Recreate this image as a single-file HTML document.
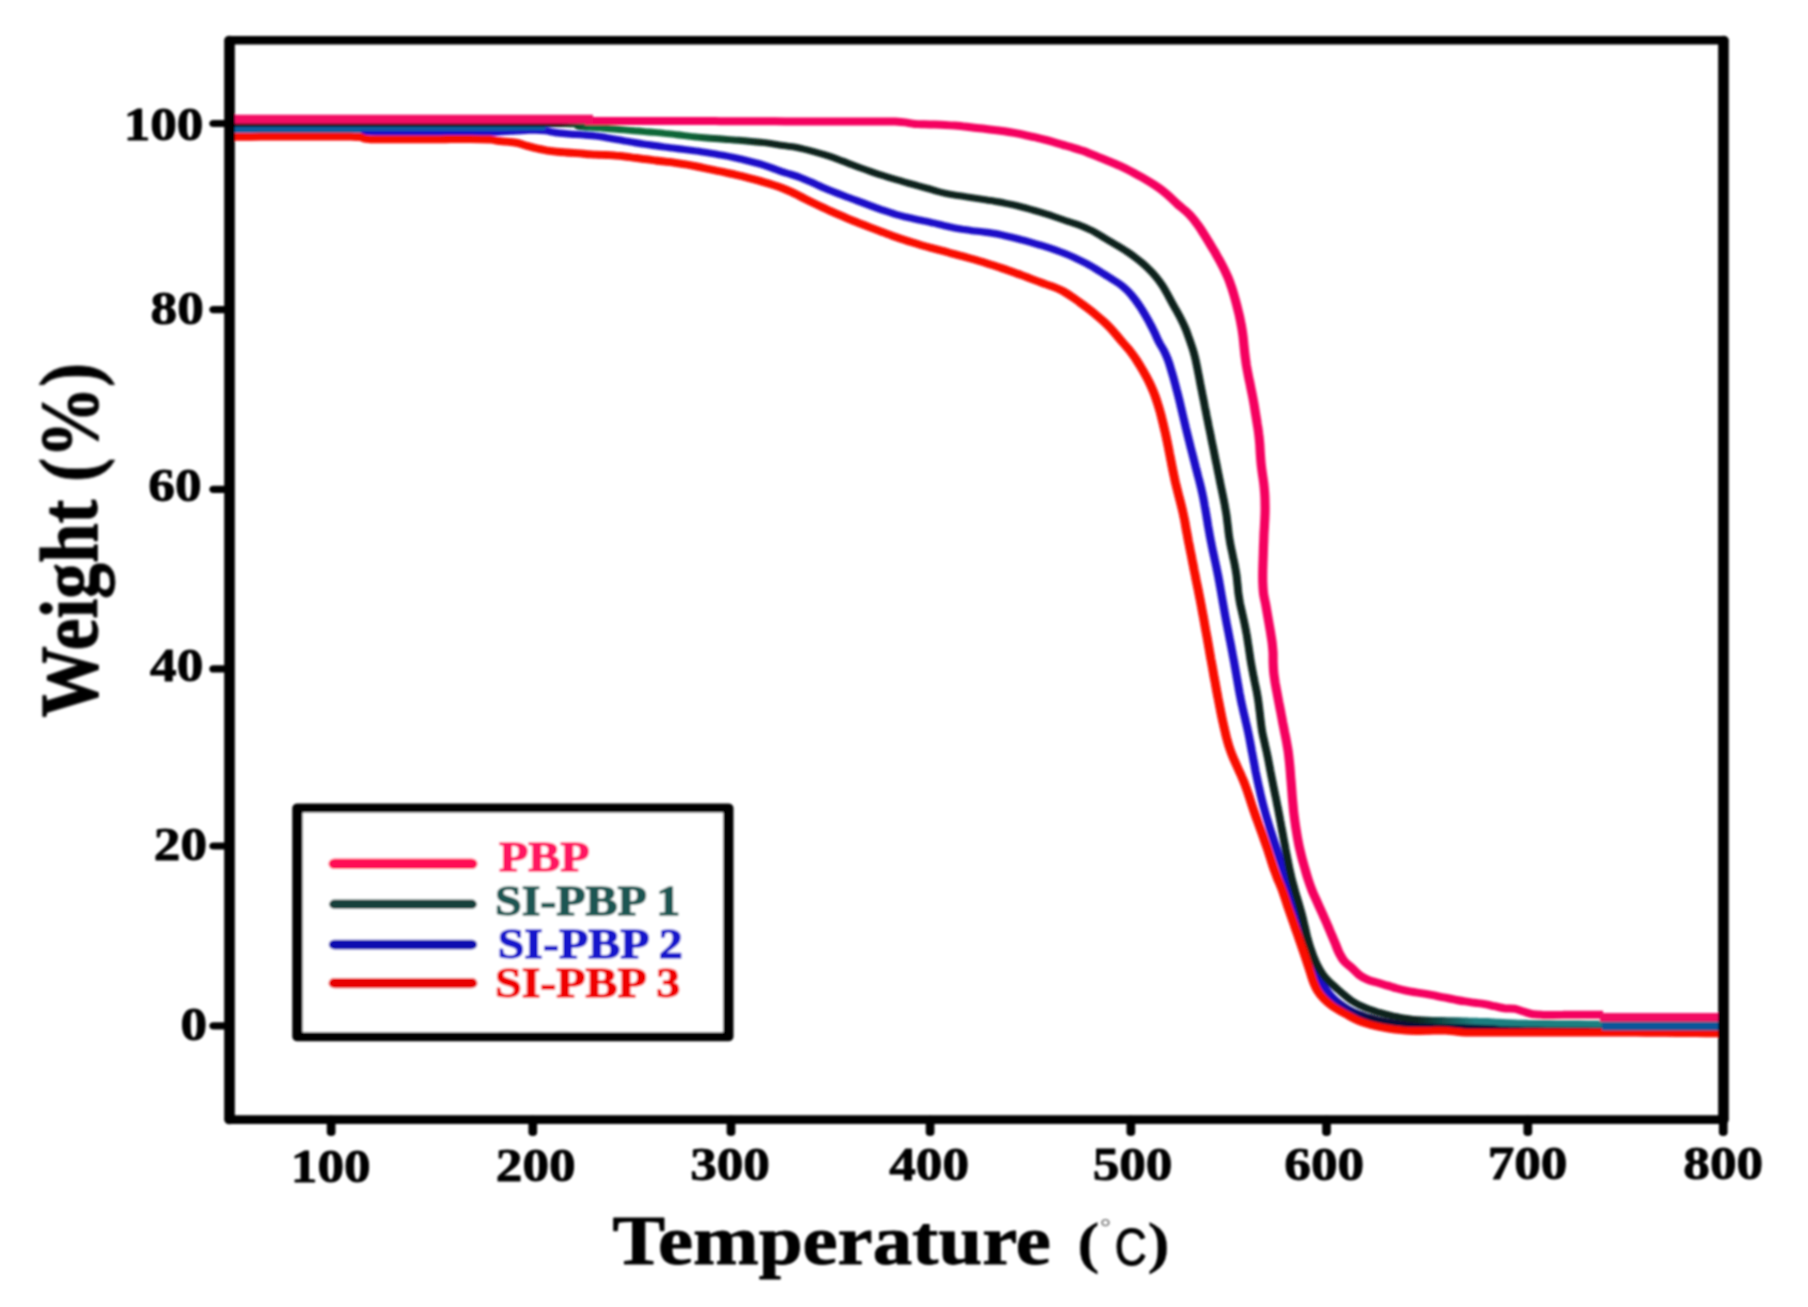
<!DOCTYPE html>
<html lang="en"><head><meta charset="utf-8"><title>TGA curves</title>
<style>html,body{margin:0;padding:0;background:#fff}body{width:1808px;height:1307px;overflow:hidden}svg{display:block}text{font-family:"Liberation Serif",serif;font-weight:bold;fill:#000;stroke:#000;stroke-width:.9px;stroke-linejoin:round}.c{fill:none;stroke-linecap:butt;stroke-linejoin:round}</style></head><body>
<svg width="1808" height="1307" viewBox="0 0 1808 1307">
<defs>
<linearGradient id="gg" gradientUnits="userSpaceOnUse" x1="201.4" y1="0" x2="1501.3" y2="0"><stop offset="0.0000" stop-color="#07150f"/><stop offset="0.2207" stop-color="#07150f"/><stop offset="0.2408" stop-color="#0a6e3c"/><stop offset="0.3078" stop-color="#0a6437"/><stop offset="0.3615" stop-color="#08201a"/><stop offset="0.7941" stop-color="#08201a"/><stop offset="0.8343" stop-color="#1d7f80"/><stop offset="1.0000" stop-color="#1d7f80"/></linearGradient>
<linearGradient id="gb" gradientUnits="userSpaceOnUse" x1="201.4" y1="0" x2="1501.3" y2="0"><stop offset="0.0000" stop-color="#1a10c8"/><stop offset="0.7371" stop-color="#1a10c8"/><stop offset="0.7653" stop-color="#080838"/><stop offset="1.0000" stop-color="#080838"/></linearGradient>
<filter id="soft" x="-2%" y="-2%" width="104%" height="104%"><feGaussianBlur stdDeviation="1"/></filter>
</defs>
<rect width="1808" height="1307" fill="#fff"/>
<g transform="scale(1.1470,1)" filter="url(#soft)">
<g class="c">
<path d="M201.4 130.3C202.8 130.3 207.2 130.3 210.1 130.3C213.0 130.3 215.9 130.3 218.8 130.3C221.8 130.3 224.7 130.3 227.6 130.2C230.5 130.2 233.4 130.2 236.3 130.2C239.2 130.2 242.1 130.2 245.0 130.2C247.9 130.2 250.8 130.2 253.7 130.2C256.6 130.2 259.6 130.2 262.5 130.2C265.4 130.2 268.3 130.2 271.2 130.2C274.1 130.2 277.0 130.2 279.9 130.2C282.8 130.2 285.7 130.2 288.6 130.2C291.5 130.2 294.4 130.2 297.4 130.2C300.3 130.2 303.2 130.2 306.1 130.2C308.9 130.3 312.6 130.2 314.6 130.4C316.5 130.6 316.6 131.0 317.8 131.2C319.0 131.5 319.7 131.9 321.8 132.0C323.8 132.2 327.4 132.1 330.3 132.2C333.2 132.2 336.1 132.2 339.1 132.2C342.0 132.2 344.9 132.2 347.8 132.2C350.7 132.2 353.6 132.2 356.5 132.2C359.4 132.2 362.3 132.2 365.2 132.2C368.1 132.2 371.0 132.2 374.0 132.2C376.9 132.2 379.8 132.2 382.7 132.2C385.6 132.2 388.5 132.2 391.4 132.2C394.3 132.2 397.2 132.2 400.1 132.1C403.0 132.1 405.9 132.1 408.8 132.1C411.8 132.1 414.7 132.1 417.6 132.1C420.5 132.1 423.6 132.1 426.2 132.1C428.9 132.1 431.0 132.2 433.5 132.1C435.9 132.0 438.3 131.7 441.0 131.5C443.7 131.3 446.8 131.0 449.7 130.8C452.6 130.6 455.5 130.5 458.4 130.3C461.3 130.2 464.2 130.0 467.1 130.1C470.0 130.2 472.9 130.4 475.8 130.8C478.6 131.3 481.5 132.1 484.3 132.6C487.2 133.1 490.1 133.4 493.0 133.7C495.9 134.0 498.8 134.1 501.7 134.4C504.6 134.6 507.5 134.8 510.4 135.1C513.3 135.4 516.2 135.6 519.1 136.0C522.0 136.4 524.9 136.9 527.7 137.4C530.6 138.0 533.5 138.6 536.3 139.2C539.2 139.8 542.0 140.4 544.9 141.0C547.8 141.5 550.6 142.1 553.5 142.6C556.4 143.2 559.2 143.7 562.1 144.2C565.0 144.7 567.9 145.1 570.8 145.6C573.6 146.1 576.5 146.5 579.4 147.0C582.3 147.4 585.2 147.9 588.0 148.3C590.9 148.7 593.8 149.1 596.7 149.5C599.6 149.9 602.5 150.3 605.4 150.8C608.2 151.2 611.1 151.7 614.0 152.2C616.9 152.7 619.7 153.3 622.6 153.8C625.5 154.4 628.3 155.0 631.2 155.6C634.0 156.2 636.9 156.9 639.7 157.6C642.6 158.3 645.4 159.1 648.2 159.8C651.1 160.6 653.9 161.4 656.7 162.2C659.5 163.0 662.4 163.8 665.1 164.8C667.9 165.8 670.6 166.9 673.4 168.1C676.1 169.2 678.7 170.6 681.5 171.7C684.2 172.7 687.1 173.5 689.8 174.5C692.6 175.5 695.4 176.5 698.1 177.7C700.8 178.9 703.5 180.2 706.1 181.6C708.8 182.9 711.4 184.3 714.1 185.7C716.7 187.1 719.4 188.4 722.1 189.7C724.8 191.0 727.5 192.2 730.2 193.4C732.9 194.6 735.6 195.8 738.3 197.0C741.1 198.1 743.8 199.3 746.5 200.4C749.2 201.6 752.0 202.7 754.7 203.9C757.4 205.0 760.2 206.2 762.9 207.4C765.6 208.5 768.3 209.7 771.1 210.7C773.8 211.8 776.6 212.9 779.4 213.8C782.2 214.8 785.0 215.6 787.8 216.5C790.6 217.3 793.5 218.0 796.3 218.7C799.1 219.4 802.0 220.0 804.8 220.8C807.7 221.5 810.5 222.2 813.4 222.9C816.2 223.7 819.0 224.4 821.9 225.2C824.7 225.9 827.5 226.7 830.4 227.4C833.2 228.1 836.1 228.7 838.9 229.3C841.8 229.8 844.7 230.3 847.6 230.7C850.4 231.1 853.3 231.4 856.2 231.8C859.1 232.2 862.0 232.5 864.9 233.1C867.8 233.6 870.6 234.2 873.5 234.9C876.3 235.6 879.1 236.4 881.9 237.2C884.8 238.0 887.6 238.9 890.4 239.8C893.2 240.6 896.0 241.5 898.8 242.4C901.6 243.4 904.4 244.3 907.2 245.2C909.9 246.2 912.7 247.2 915.5 248.2C918.2 249.2 921.0 250.3 923.7 251.5C926.5 252.6 929.2 253.8 931.8 255.1C934.5 256.4 937.2 257.8 939.8 259.3C942.4 260.7 945.0 262.2 947.6 263.8C950.1 265.4 952.6 267.1 955.1 268.8C957.6 270.5 960.1 272.3 962.5 274.0C965.0 275.8 967.5 277.6 969.9 279.4C972.4 281.2 974.9 282.9 977.2 284.9C979.5 287.0 981.7 289.1 983.7 291.5C985.7 293.8 987.5 296.5 989.3 299.1C991.1 301.8 992.7 304.5 994.3 307.3C995.9 310.1 997.4 312.9 998.9 315.8C1000.4 318.7 1001.8 321.6 1003.1 324.6C1004.5 327.5 1005.7 330.5 1007.0 333.5C1008.2 336.6 1009.3 339.7 1010.7 342.6C1012.0 345.5 1013.7 348.3 1015.0 351.2C1016.3 354.1 1017.4 357.1 1018.4 360.2C1019.5 363.3 1020.2 366.6 1021.0 369.8C1021.9 373.0 1022.7 376.2 1023.5 379.4C1024.2 382.6 1025.0 385.8 1025.7 389.1C1026.5 392.3 1027.2 395.5 1027.9 398.8C1028.6 402.0 1029.2 405.2 1029.9 408.5C1030.6 411.7 1031.2 415.0 1031.9 418.2C1032.6 421.5 1033.2 424.7 1033.9 428.0C1034.6 431.2 1035.3 434.4 1036.0 437.7C1036.7 440.9 1037.4 444.2 1038.1 447.4C1038.8 450.6 1039.6 453.9 1040.3 457.1C1041.0 460.3 1041.7 463.6 1042.4 466.8C1043.2 470.0 1043.9 473.2 1044.6 476.5C1045.4 479.7 1046.1 482.9 1046.8 486.2C1047.5 489.4 1048.1 492.7 1048.7 495.9C1049.3 499.2 1049.8 502.5 1050.3 505.8C1050.9 509.0 1051.3 512.3 1051.8 515.6C1052.3 518.9 1052.8 522.2 1053.2 525.5C1053.7 528.8 1054.2 532.1 1054.7 535.3C1055.2 538.6 1055.8 541.9 1056.4 545.2C1056.9 548.4 1057.6 551.7 1058.2 555.0C1058.8 558.2 1059.4 561.5 1060.0 564.7C1060.6 568.0 1061.2 571.3 1061.8 574.5C1062.4 577.8 1062.9 581.1 1063.4 584.4C1063.9 587.7 1064.4 590.9 1064.9 594.2C1065.4 597.5 1065.9 600.8 1066.4 604.1C1066.9 607.4 1067.4 610.7 1067.9 613.9C1068.4 617.2 1069.0 620.5 1069.5 623.8C1070.1 627.1 1070.6 630.3 1071.2 633.6C1071.7 636.9 1072.3 640.1 1072.9 643.4C1073.4 646.7 1074.0 650.0 1074.5 653.2C1075.0 656.5 1075.6 659.8 1076.1 663.1C1076.6 666.4 1077.1 669.7 1077.6 672.9C1078.1 676.2 1078.6 679.5 1079.1 682.8C1079.6 686.1 1080.1 689.4 1080.6 692.6C1081.2 695.9 1081.7 699.2 1082.3 702.5C1082.9 705.7 1083.6 709.0 1084.2 712.2C1084.9 715.5 1085.6 718.7 1086.2 722.0C1086.9 725.2 1087.5 728.5 1088.1 731.7C1088.7 735.0 1089.3 738.3 1089.8 741.5C1090.4 744.8 1090.9 748.1 1091.4 751.4C1092.0 754.7 1092.5 757.9 1093.0 761.2C1093.6 764.5 1094.1 767.8 1094.6 771.1C1095.2 774.3 1095.8 777.6 1096.4 780.9C1097.0 784.1 1097.6 787.4 1098.3 790.6C1098.9 793.9 1099.6 797.1 1100.3 800.4C1101.0 803.6 1101.7 806.8 1102.5 810.0C1103.3 813.3 1104.0 816.5 1104.9 819.7C1105.7 822.9 1106.5 826.0 1107.4 829.2C1108.3 832.4 1109.2 835.6 1110.1 838.8C1111.0 841.9 1111.9 845.1 1112.8 848.3C1113.7 851.4 1114.6 854.6 1115.5 857.8C1116.5 860.9 1117.4 864.1 1118.3 867.3C1119.2 870.4 1120.2 873.6 1121.1 876.7C1122.0 879.9 1123.0 883.1 1123.9 886.2C1124.7 889.4 1125.6 892.6 1126.5 895.8C1127.3 899.0 1128.2 902.1 1129.0 905.3C1129.9 908.5 1130.8 911.7 1131.6 914.9C1132.5 918.1 1133.4 921.3 1134.2 924.4C1135.1 927.6 1136.0 930.8 1136.8 934.0C1137.7 937.2 1138.6 940.3 1139.5 943.5C1140.4 946.7 1141.3 949.9 1142.2 953.0C1143.1 956.2 1143.9 959.4 1144.9 962.6C1145.9 965.7 1146.8 968.8 1148.0 971.9C1149.1 975.0 1150.3 978.0 1151.7 981.0C1153.0 983.9 1154.5 986.8 1156.1 989.5C1157.8 992.3 1159.6 994.9 1161.6 997.3C1163.6 999.7 1165.8 1001.8 1168.2 1003.8C1170.5 1005.8 1173.0 1007.6 1175.5 1009.2C1178.0 1010.8 1180.6 1012.3 1183.3 1013.6C1186.0 1014.8 1188.7 1015.9 1191.5 1017.0C1194.3 1018.0 1197.1 1018.8 1199.9 1019.6C1202.7 1020.4 1205.6 1021.1 1208.4 1021.8C1211.3 1022.4 1214.2 1022.9 1217.0 1023.4C1219.9 1023.9 1222.8 1024.3 1225.7 1024.6C1228.6 1024.9 1231.5 1025.1 1234.4 1025.3C1237.3 1025.5 1240.2 1025.6 1243.1 1025.7C1246.0 1025.9 1248.9 1026.0 1251.8 1026.1C1254.7 1026.2 1257.6 1026.3 1260.5 1026.4C1263.5 1026.5 1266.4 1026.6 1269.3 1026.7C1272.2 1026.8 1275.1 1026.9 1278.0 1026.9C1280.9 1027.0 1283.8 1027.1 1286.7 1027.2C1289.6 1027.2 1292.5 1027.3 1295.4 1027.4C1298.3 1027.4 1301.2 1027.5 1304.2 1027.5C1307.1 1027.6 1310.0 1027.6 1312.9 1027.7C1315.8 1027.7 1318.7 1027.8 1321.6 1027.8C1324.5 1027.8 1327.4 1027.9 1330.3 1027.9C1333.2 1027.9 1336.1 1027.9 1339.0 1028.0C1342.0 1028.0 1344.9 1028.0 1347.8 1028.0C1350.7 1028.1 1353.6 1028.1 1356.5 1028.1C1359.4 1028.1 1362.3 1028.1 1365.2 1028.1C1368.1 1028.1 1371.0 1028.1 1373.9 1028.2C1376.8 1028.2 1379.8 1028.2 1382.7 1028.2C1385.6 1028.2 1388.5 1028.2 1391.4 1028.2C1394.3 1028.2 1397.2 1028.2 1400.1 1028.2C1403.0 1028.2 1405.9 1028.2 1408.8 1028.2C1411.7 1028.2 1414.7 1028.2 1417.6 1028.2C1420.5 1028.2 1423.4 1028.2 1426.3 1028.2C1429.2 1028.1 1432.1 1028.1 1435.0 1028.1C1437.9 1028.1 1440.8 1028.1 1443.7 1028.1C1446.6 1028.1 1449.5 1028.1 1452.5 1028.0C1455.4 1028.0 1458.3 1028.0 1461.2 1028.0C1464.1 1028.0 1467.0 1028.0 1469.9 1028.0C1472.8 1027.9 1475.7 1027.9 1478.6 1027.9C1481.5 1027.9 1484.4 1027.9 1487.3 1027.9C1490.3 1027.9 1493.7 1027.8 1496.1 1027.8C1498.4 1027.8 1500.4 1027.8 1501.3 1027.8" stroke="url(#gb)" stroke-width="7.2"/>
<path d="M201.4 129.2L314.7 129.2" stroke="#0b5f9e" stroke-width="7.4"/>
<path d="M313.0 128.3L435.9 128.3L475.2 127.6" stroke="#0b5f9e" stroke-width="4.8"/>
<path d="M201.4 123.3C202.8 123.3 207.2 123.3 210.1 123.3C213.0 123.3 215.9 123.3 218.8 123.3C221.7 123.3 224.7 123.3 227.6 123.3C230.5 123.3 233.4 123.3 236.3 123.3C239.2 123.3 242.1 123.3 245.0 123.3C247.9 123.3 250.8 123.3 253.7 123.3C256.6 123.3 259.5 123.3 262.5 123.3C265.4 123.3 268.3 123.3 271.2 123.3C274.1 123.3 277.0 123.3 279.9 123.3C282.8 123.3 285.7 123.3 288.6 123.3C291.5 123.3 294.4 123.3 297.3 123.2C300.3 123.2 303.2 123.2 306.1 123.2C309.0 123.2 311.9 123.2 314.8 123.2C317.7 123.2 320.6 123.2 323.5 123.2C326.4 123.2 329.3 123.2 332.2 123.2C335.1 123.2 338.1 123.2 341.0 123.2C343.9 123.2 346.8 123.2 349.7 123.2C352.6 123.2 355.5 123.2 358.4 123.2C361.3 123.2 364.2 123.2 367.1 123.2C370.0 123.2 372.9 123.2 375.9 123.2C378.8 123.2 381.7 123.2 384.6 123.2C387.5 123.2 390.4 123.2 393.3 123.2C396.2 123.2 399.1 123.2 402.0 123.2C404.9 123.2 407.8 123.2 410.7 123.2C413.7 123.3 416.6 123.3 419.5 123.3C422.4 123.3 425.3 123.3 428.2 123.3C431.1 123.3 434.0 123.3 436.9 123.3C439.8 123.3 442.7 123.3 445.6 123.3C448.5 123.3 451.5 123.3 454.4 123.3C457.3 123.3 460.2 123.4 463.1 123.4C466.0 123.4 468.9 123.4 471.8 123.4C474.7 123.4 477.6 123.4 480.5 123.5C483.4 123.5 486.3 123.5 489.3 123.5C492.2 123.6 495.1 123.6 498.0 123.7C500.8 123.8 504.7 123.8 506.5 124.0C508.2 124.2 509.0 124.6 508.6 124.9C508.2 125.3 503.8 125.8 504.0 126.1C504.2 126.5 507.4 126.7 509.8 127.0C512.2 127.2 515.5 127.3 518.4 127.5C521.3 127.7 524.2 128.0 527.1 128.2C530.0 128.5 532.9 128.8 535.8 129.0C538.7 129.3 541.6 129.6 544.5 129.9C547.4 130.2 550.3 130.5 553.2 130.8C556.1 131.0 559.0 131.3 561.9 131.6C564.8 131.9 567.7 132.1 570.6 132.4C573.5 132.7 576.4 133.0 579.3 133.4C582.2 133.7 585.1 134.1 588.0 134.4C590.8 134.8 593.7 135.3 596.6 135.6C599.5 136.0 602.4 136.4 605.3 136.8C608.2 137.1 611.1 137.5 614.0 137.7C616.9 138.0 619.8 138.3 622.7 138.5C625.6 138.8 628.5 139.0 631.4 139.2C634.3 139.5 637.2 139.7 640.1 140.0C643.0 140.2 645.9 140.5 648.8 140.8C651.7 141.1 654.6 141.4 657.4 141.7C660.3 142.0 663.2 142.3 666.1 142.7C669.0 143.1 671.9 143.6 674.8 144.1C677.6 144.6 680.5 145.2 683.4 145.7C686.2 146.2 689.1 146.4 692.0 146.9C694.9 147.5 697.7 148.2 700.5 149.0C703.4 149.7 706.2 150.6 709.0 151.5C711.8 152.4 714.6 153.3 717.4 154.2C720.1 155.2 722.9 156.2 725.7 157.3C728.4 158.4 731.1 159.6 733.8 160.8C736.6 161.9 739.3 163.2 742.0 164.4C744.7 165.6 747.4 166.8 750.1 167.9C752.9 169.1 755.6 170.2 758.4 171.2C761.1 172.3 763.9 173.4 766.6 174.4C769.4 175.4 772.2 176.4 775.0 177.4C777.7 178.4 780.5 179.4 783.3 180.3C786.1 181.2 788.9 182.2 791.7 183.1C794.5 184.0 797.3 184.8 800.1 185.7C802.9 186.6 805.7 187.5 808.5 188.4C811.3 189.3 814.1 190.4 816.9 191.3C819.7 192.2 822.5 193.0 825.3 193.7C828.1 194.4 831.0 194.9 833.9 195.4C836.8 195.9 839.7 196.4 842.5 196.8C845.4 197.3 848.3 197.8 851.2 198.3C854.0 198.8 856.9 199.3 859.8 199.8C862.6 200.4 865.5 200.9 868.4 201.5C871.3 202.0 874.1 202.6 877.0 203.3C879.8 203.9 882.7 204.6 885.5 205.4C888.3 206.2 891.1 207.0 893.9 207.9C896.7 208.8 899.5 209.7 902.3 210.6C905.1 211.5 907.9 212.4 910.7 213.5C913.5 214.5 916.2 215.5 919.0 216.6C921.7 217.7 924.4 218.8 927.2 219.9C930.0 221.0 932.7 221.9 935.5 223.0C938.3 224.0 941.0 225.1 943.7 226.3C946.4 227.6 949.1 228.9 951.6 230.4C954.2 231.9 956.7 233.7 959.2 235.3C961.7 237.0 964.2 238.8 966.7 240.6C969.2 242.3 971.7 243.9 974.2 245.6C976.7 247.3 979.2 249.0 981.6 250.9C984.1 252.7 986.5 254.6 988.8 256.6C991.1 258.6 993.4 260.6 995.6 262.8C997.8 265.0 1000.0 267.2 1002.0 269.6C1004.1 271.9 1006.1 274.4 1007.9 276.9C1009.8 279.5 1011.5 282.2 1013.1 285.0C1014.7 287.7 1016.1 290.7 1017.5 293.6C1018.9 296.5 1020.3 299.5 1021.7 302.4C1023.1 305.3 1024.5 308.2 1025.9 311.1C1027.3 314.0 1028.7 316.9 1030.0 319.9C1031.3 322.9 1032.6 325.9 1033.7 329.0C1034.8 332.1 1035.7 335.2 1036.7 338.4C1037.6 341.5 1038.6 344.7 1039.5 347.8C1040.4 351.0 1041.2 354.2 1041.9 357.4C1042.6 360.6 1043.1 363.9 1043.7 367.2C1044.3 370.5 1044.8 373.8 1045.4 377.0C1045.9 380.3 1046.5 383.6 1047.0 386.9C1047.6 390.1 1048.2 393.4 1048.7 396.7C1049.3 399.9 1049.9 403.2 1050.4 406.5C1051.0 409.8 1051.6 413.0 1052.1 416.3C1052.7 419.6 1053.3 422.8 1053.8 426.1C1054.4 429.4 1055.0 432.6 1055.6 435.9C1056.1 439.2 1056.7 442.5 1057.3 445.7C1057.9 449.0 1058.5 452.3 1059.0 455.5C1059.6 458.8 1060.2 462.1 1060.8 465.3C1061.3 468.6 1061.9 471.9 1062.5 475.1C1063.1 478.4 1063.6 481.7 1064.2 484.9C1064.8 488.2 1065.4 491.5 1066.0 494.7C1066.6 498.0 1067.2 501.3 1067.7 504.6C1068.2 507.8 1068.7 511.1 1069.2 514.4C1069.6 517.7 1069.9 521.0 1070.3 524.3C1070.7 527.6 1070.9 531.0 1071.3 534.3C1071.7 537.6 1072.2 540.9 1072.7 544.1C1073.2 547.4 1073.9 550.7 1074.5 553.9C1075.0 557.2 1075.7 560.5 1076.3 563.7C1076.8 567.0 1077.4 570.3 1077.8 573.6C1078.3 576.9 1078.5 580.2 1078.8 583.5C1079.2 586.8 1079.3 590.1 1079.7 593.5C1080.1 596.8 1080.6 600.0 1081.1 603.3C1081.7 606.6 1082.4 609.8 1083.0 613.1C1083.6 616.3 1084.3 619.6 1084.9 622.8C1085.5 626.1 1086.1 629.4 1086.6 632.6C1087.2 635.9 1087.6 639.2 1088.0 642.5C1088.5 645.8 1088.8 649.1 1089.3 652.4C1089.7 655.7 1090.1 659.0 1090.6 662.3C1091.1 665.6 1091.6 668.9 1092.2 672.2C1092.7 675.4 1093.4 678.7 1093.9 682.0C1094.5 685.2 1095.1 688.5 1095.7 691.8C1096.2 695.0 1096.7 698.3 1097.1 701.6C1097.5 704.9 1097.8 708.2 1098.2 711.6C1098.6 714.9 1098.8 718.2 1099.2 721.5C1099.6 724.8 1099.9 728.1 1100.4 731.4C1100.9 734.7 1101.6 737.9 1102.2 741.2C1102.8 744.4 1103.5 747.7 1104.1 750.9C1104.8 754.2 1105.3 757.5 1105.9 760.7C1106.4 764.0 1107.0 767.3 1107.5 770.6C1108.1 773.8 1108.6 777.1 1109.2 780.4C1109.8 783.7 1110.3 786.9 1110.9 790.2C1111.5 793.5 1112.1 796.7 1112.7 800.0C1113.2 803.3 1113.8 806.5 1114.4 809.8C1114.9 813.1 1115.5 816.3 1116.0 819.6C1116.6 822.9 1117.1 826.2 1117.6 829.5C1118.2 832.7 1118.7 836.0 1119.2 839.3C1119.7 842.6 1120.3 845.9 1120.8 849.1C1121.4 852.4 1121.9 855.7 1122.5 859.0C1123.1 862.2 1123.6 865.5 1124.2 868.8C1124.8 872.0 1125.5 875.3 1126.1 878.5C1126.8 881.8 1127.6 885.0 1128.4 888.2C1129.1 891.4 1130.0 894.6 1130.8 897.8C1131.7 901.0 1132.5 904.2 1133.3 907.4C1134.1 910.6 1134.9 913.8 1135.6 917.0C1136.3 920.3 1136.9 923.5 1137.6 926.8C1138.3 930.0 1138.9 933.3 1139.6 936.5C1140.4 939.7 1141.1 942.9 1142.0 946.1C1142.9 949.3 1143.9 952.4 1144.9 955.6C1146.0 958.7 1147.0 961.8 1148.3 964.7C1149.6 967.7 1151.0 970.7 1152.7 973.4C1154.3 976.1 1156.3 978.6 1158.3 981.0C1160.3 983.3 1162.6 985.4 1164.7 987.7C1166.9 989.9 1169.0 992.2 1171.3 994.3C1173.5 996.5 1175.7 998.6 1178.1 1000.5C1180.5 1002.3 1183.1 1003.9 1185.7 1005.4C1188.3 1006.8 1191.0 1008.1 1193.7 1009.2C1196.4 1010.4 1199.2 1011.4 1202.0 1012.4C1204.8 1013.3 1207.6 1014.2 1210.4 1014.9C1213.3 1015.7 1216.1 1016.4 1219.0 1017.0C1221.8 1017.7 1224.7 1018.2 1227.6 1018.7C1230.4 1019.2 1233.3 1019.6 1236.2 1019.8C1239.1 1020.1 1242.0 1020.2 1244.9 1020.3C1247.8 1020.4 1250.7 1020.4 1253.6 1020.5C1256.6 1020.5 1259.5 1020.6 1262.4 1020.6C1265.3 1020.7 1268.2 1020.8 1271.1 1020.8C1274.0 1020.9 1276.9 1020.9 1279.8 1021.0C1282.7 1021.0 1285.6 1021.1 1288.5 1021.2C1291.4 1021.2 1294.3 1021.3 1297.2 1021.5C1300.2 1021.7 1303.0 1022.0 1305.9 1022.2C1308.8 1022.5 1311.7 1022.7 1314.6 1022.8C1317.5 1023.0 1320.5 1023.0 1323.4 1023.1C1326.3 1023.2 1329.2 1023.2 1332.1 1023.3C1335.0 1023.3 1337.9 1023.4 1340.8 1023.4C1343.7 1023.5 1346.6 1023.5 1349.5 1023.5C1352.4 1023.6 1355.3 1023.6 1358.3 1023.6C1361.2 1023.7 1364.1 1023.7 1367.0 1023.7C1369.9 1023.8 1372.8 1023.8 1375.7 1023.8C1378.6 1023.9 1381.5 1023.9 1384.4 1023.9C1387.3 1023.9 1390.2 1024.0 1393.1 1024.0C1396.1 1024.0 1399.0 1024.0 1401.9 1024.0C1404.8 1024.1 1407.7 1024.1 1410.6 1024.1C1413.5 1024.1 1416.4 1024.1 1419.3 1024.2C1422.2 1024.2 1425.1 1024.2 1428.0 1024.2C1430.9 1024.2 1433.9 1024.2 1436.8 1024.2C1439.7 1024.3 1442.6 1024.3 1445.5 1024.3C1448.4 1024.3 1451.3 1024.3 1454.2 1024.3C1457.1 1024.3 1460.0 1024.3 1462.9 1024.4C1465.8 1024.4 1468.7 1024.4 1471.6 1024.4C1474.6 1024.4 1477.5 1024.4 1480.4 1024.4C1483.3 1024.4 1486.2 1024.4 1489.1 1024.5C1492.0 1024.5 1495.8 1024.5 1497.8 1024.5C1499.9 1024.5 1500.7 1024.5 1501.3 1024.5" stroke="url(#gg)" stroke-width="6.9"/>
<path d="M201.4 136.8C202.8 136.8 207.2 136.8 210.1 136.8C213.0 136.8 215.9 136.8 218.8 136.8C221.7 136.7 224.7 136.7 227.6 136.7C230.5 136.7 233.4 136.7 236.3 136.7C239.2 136.7 242.1 136.7 245.0 136.7C247.9 136.7 250.8 136.7 253.7 136.7C256.6 136.6 259.6 136.6 262.5 136.6C265.4 136.6 268.3 136.6 271.2 136.6C274.1 136.6 277.0 136.6 279.9 136.6C282.8 136.6 285.7 136.6 288.6 136.6C291.5 136.6 294.4 136.6 297.4 136.7C300.3 136.7 303.2 136.7 306.1 136.7C308.9 136.8 312.4 136.8 314.3 137.0C316.2 137.3 315.7 138.1 317.2 138.4C318.7 138.8 320.7 139.1 323.2 139.3C325.6 139.4 329.0 139.4 331.9 139.4C334.8 139.4 337.7 139.4 340.6 139.4C343.5 139.4 346.4 139.4 349.3 139.4C352.2 139.4 355.2 139.4 358.1 139.4C361.0 139.4 363.9 139.4 366.8 139.3C369.7 139.3 372.6 139.3 375.5 139.3C378.4 139.3 381.3 139.3 384.2 139.3C387.1 139.3 390.0 139.2 393.0 139.2C395.9 139.2 398.8 139.2 401.7 139.2C404.6 139.2 407.5 139.2 410.4 139.2C413.3 139.2 416.2 139.2 419.1 139.3C422.0 139.3 425.2 139.3 427.7 139.5C430.3 139.8 432.1 140.6 434.5 140.9C436.9 141.3 439.4 141.3 442.1 141.7C444.8 142.0 447.9 142.2 450.7 142.9C453.5 143.6 456.3 144.8 459.1 145.7C461.9 146.6 464.7 147.5 467.5 148.3C470.3 149.0 473.2 149.7 476.0 150.3C478.9 150.8 481.8 151.3 484.7 151.7C487.5 152.1 490.5 152.3 493.4 152.5C496.3 152.8 499.2 153.0 502.1 153.2C505.0 153.4 507.9 153.7 510.8 154.0C513.7 154.2 516.6 154.5 519.5 154.7C522.4 154.9 525.3 154.9 528.2 155.0C531.1 155.2 534.0 155.3 536.9 155.6C539.8 155.8 542.7 156.2 545.5 156.6C548.4 157.0 551.3 157.5 554.2 157.9C557.1 158.4 560.0 158.8 562.8 159.2C565.7 159.7 568.6 160.1 571.5 160.5C574.4 160.8 577.3 161.2 580.2 161.6C583.1 162.0 585.9 162.3 588.8 162.8C591.7 163.3 594.6 163.8 597.4 164.3C600.3 164.9 603.2 165.5 606.0 166.1C608.9 166.8 611.7 167.5 614.6 168.2C617.4 168.9 620.2 169.6 623.1 170.3C625.9 171.0 628.8 171.6 631.6 172.3C634.5 173.0 637.3 173.7 640.2 174.4C643.0 175.2 645.8 175.9 648.7 176.7C651.5 177.5 654.3 178.3 657.1 179.2C659.9 180.1 662.7 181.0 665.5 182.0C668.3 182.9 671.1 183.9 673.8 184.9C676.6 185.9 679.4 186.9 682.1 188.1C684.8 189.3 687.5 190.6 690.1 192.0C692.7 193.4 695.3 195.0 697.9 196.5C700.5 198.0 703.1 199.6 705.7 201.1C708.3 202.6 710.9 204.0 713.5 205.4C716.1 206.8 718.8 208.2 721.4 209.6C724.1 211.0 726.7 212.4 729.4 213.7C732.0 215.0 734.7 216.4 737.4 217.7C740.1 219.0 742.8 220.3 745.5 221.5C748.1 222.8 750.8 224.0 753.6 225.2C756.3 226.4 759.0 227.6 761.7 228.8C764.4 230.0 767.1 231.2 769.9 232.3C772.6 233.5 775.3 234.6 778.1 235.8C780.8 236.9 783.5 238.0 786.3 239.1C789.0 240.2 791.8 241.2 794.6 242.2C797.3 243.2 800.1 244.2 802.9 245.1C805.7 246.0 808.5 246.9 811.3 247.7C814.1 248.6 817.0 249.4 819.8 250.3C822.6 251.1 825.4 252.0 828.2 252.9C831.0 253.7 833.8 254.6 836.6 255.5C839.4 256.3 842.2 257.2 845.0 258.1C847.8 259.0 850.6 259.9 853.4 260.9C856.2 261.8 859.0 262.8 861.7 263.8C864.5 264.8 867.3 265.9 870.0 266.9C872.8 268.0 875.6 269.0 878.3 270.1C881.1 271.2 883.8 272.3 886.5 273.5C889.3 274.6 892.0 275.8 894.7 276.9C897.4 278.1 900.2 279.3 902.9 280.5C905.6 281.6 908.3 282.8 911.1 284.0C913.8 285.1 916.6 286.0 919.3 287.2C922.0 288.4 924.6 289.8 927.2 291.4C929.7 293.0 932.1 295.0 934.5 296.8C936.9 298.7 939.3 300.6 941.6 302.6C944.0 304.5 946.3 306.5 948.6 308.5C950.9 310.5 953.2 312.6 955.4 314.8C957.7 316.9 959.9 319.1 962.0 321.3C964.2 323.6 966.2 325.9 968.2 328.3C970.2 330.8 972.1 333.3 974.0 335.8C975.9 338.4 977.7 341.0 979.6 343.5C981.5 346.1 983.5 348.5 985.3 351.1C987.1 353.7 988.7 356.4 990.4 359.2C992.0 362.0 993.5 364.8 995.0 367.7C996.5 370.5 997.9 373.4 999.3 376.4C1000.7 379.3 1002.0 382.3 1003.2 385.3C1004.4 388.3 1005.5 391.4 1006.6 394.5C1007.6 397.6 1008.5 400.8 1009.4 404.0C1010.3 407.2 1011.1 410.4 1011.9 413.6C1012.6 416.8 1013.3 420.0 1014.0 423.3C1014.7 426.5 1015.3 429.8 1016.0 433.0C1016.6 436.3 1017.2 439.5 1017.8 442.8C1018.4 446.1 1019.0 449.3 1019.5 452.6C1020.1 455.9 1020.6 459.2 1021.2 462.4C1021.7 465.7 1022.3 469.0 1022.9 472.3C1023.5 475.5 1024.1 478.8 1024.7 482.0C1025.4 485.3 1026.1 488.5 1026.8 491.7C1027.5 495.0 1028.3 498.2 1029.0 501.4C1029.7 504.7 1030.4 507.9 1031.1 511.1C1031.7 514.4 1032.3 517.7 1032.9 520.9C1033.4 524.2 1033.9 527.5 1034.4 530.8C1035.0 534.1 1035.5 537.3 1036.0 540.6C1036.6 543.9 1037.2 547.2 1037.7 550.4C1038.3 553.7 1038.9 557.0 1039.4 560.2C1040.0 563.5 1040.6 566.8 1041.1 570.1C1041.7 573.3 1042.3 576.6 1042.8 579.9C1043.4 583.1 1044.0 586.4 1044.6 589.7C1045.1 593.0 1045.7 596.2 1046.3 599.5C1046.8 602.8 1047.4 606.0 1047.9 609.3C1048.4 612.6 1049.0 615.9 1049.5 619.2C1050.0 622.4 1050.5 625.7 1051.0 629.0C1051.5 632.3 1052.1 635.6 1052.6 638.9C1053.1 642.1 1053.6 645.4 1054.1 648.7C1054.6 652.0 1055.1 655.3 1055.6 658.6C1056.2 661.8 1056.7 665.1 1057.2 668.4C1057.7 671.7 1058.2 675.0 1058.7 678.3C1059.3 681.5 1059.8 684.8 1060.3 688.1C1060.8 691.4 1061.4 694.6 1061.9 697.9C1062.5 701.2 1063.0 704.5 1063.6 707.7C1064.1 711.0 1064.7 714.3 1065.3 717.5C1065.9 720.8 1066.6 724.1 1067.2 727.3C1067.9 730.6 1068.5 733.8 1069.2 737.1C1070.0 740.3 1070.7 743.5 1071.6 746.7C1072.5 749.8 1073.5 753.0 1074.6 756.1C1075.7 759.2 1076.9 762.2 1078.1 765.2C1079.2 768.3 1080.5 771.3 1081.7 774.3C1082.8 777.4 1084.0 780.5 1085.1 783.6C1086.1 786.7 1087.1 789.8 1088.0 793.0C1089.0 796.1 1089.8 799.3 1090.7 802.5C1091.6 805.7 1092.5 808.8 1093.5 812.0C1094.4 815.1 1095.4 818.3 1096.4 821.4C1097.4 824.5 1098.4 827.7 1099.4 830.8C1100.4 833.9 1101.4 837.1 1102.3 840.2C1103.3 843.4 1104.2 846.5 1105.2 849.7C1106.1 852.9 1107.0 856.0 1107.9 859.2C1108.8 862.4 1109.6 865.6 1110.6 868.7C1111.6 871.8 1112.6 875.0 1113.6 878.1C1114.7 881.2 1116.0 884.2 1117.0 887.3C1118.1 890.4 1119.0 893.6 1119.9 896.7C1120.9 899.9 1121.7 903.1 1122.6 906.2C1123.6 909.4 1124.5 912.5 1125.5 915.7C1126.4 918.8 1127.4 922.0 1128.4 925.1C1129.3 928.3 1130.3 931.4 1131.3 934.6C1132.2 937.7 1133.2 940.9 1134.1 944.0C1135.1 947.2 1136.0 950.3 1137.0 953.5C1137.9 956.6 1138.8 959.8 1139.7 963.0C1140.7 966.1 1141.5 969.3 1142.4 972.5C1143.3 975.6 1144.0 978.9 1145.1 982.0C1146.2 985.1 1147.3 988.2 1148.8 991.0C1150.3 993.8 1152.2 996.4 1154.2 998.8C1156.2 1001.2 1158.4 1003.4 1160.7 1005.4C1163.0 1007.4 1165.5 1009.1 1168.0 1010.8C1170.5 1012.5 1173.1 1014.0 1175.7 1015.6C1178.2 1017.2 1180.7 1018.9 1183.4 1020.2C1186.0 1021.6 1188.8 1022.7 1191.5 1023.7C1194.3 1024.7 1197.1 1025.5 1200.0 1026.2C1202.8 1027.0 1205.7 1027.6 1208.5 1028.2C1211.4 1028.7 1214.3 1029.2 1217.1 1029.7C1220.0 1030.1 1222.9 1030.4 1225.8 1030.6C1228.7 1030.8 1231.6 1030.9 1234.5 1031.0C1237.4 1031.0 1240.4 1030.9 1243.3 1030.8C1246.2 1030.8 1249.1 1030.6 1252.0 1030.5C1254.9 1030.5 1257.8 1030.4 1260.7 1030.6C1263.6 1030.8 1266.4 1031.4 1269.3 1031.7C1272.2 1032.1 1275.1 1032.5 1278.0 1032.6C1280.9 1032.8 1283.8 1032.7 1286.7 1032.7C1289.6 1032.7 1292.5 1032.7 1295.4 1032.6C1298.3 1032.6 1301.3 1032.6 1304.2 1032.6C1307.1 1032.6 1310.0 1032.6 1312.9 1032.6C1315.8 1032.6 1318.7 1032.6 1321.6 1032.6C1324.5 1032.6 1327.4 1032.5 1330.3 1032.5C1333.2 1032.5 1336.1 1032.5 1339.1 1032.5C1342.0 1032.5 1344.9 1032.5 1347.8 1032.5C1350.7 1032.5 1353.6 1032.5 1356.5 1032.5C1359.4 1032.5 1362.3 1032.5 1365.2 1032.5C1368.1 1032.5 1371.0 1032.5 1374.0 1032.5C1376.9 1032.5 1379.8 1032.5 1382.7 1032.5C1385.6 1032.5 1388.5 1032.5 1391.4 1032.5C1394.3 1032.5 1397.2 1032.5 1400.1 1032.5C1403.0 1032.5 1405.9 1032.6 1408.8 1032.6C1411.8 1032.6 1414.7 1032.6 1417.6 1032.6C1420.5 1032.6 1423.4 1032.7 1426.3 1032.7C1429.2 1032.7 1432.1 1032.7 1435.0 1032.8C1437.9 1032.8 1440.8 1032.8 1443.7 1032.8C1446.6 1032.9 1449.6 1032.9 1452.5 1032.9C1455.4 1033.0 1458.3 1033.0 1461.2 1033.0C1464.1 1033.0 1467.0 1033.1 1469.9 1033.1C1472.8 1033.1 1475.7 1033.1 1478.6 1033.2C1481.5 1033.2 1484.4 1033.2 1487.4 1033.3C1490.3 1033.3 1493.7 1033.3 1496.1 1033.4C1498.4 1033.4 1500.4 1033.4 1501.3 1033.4" stroke="#f80800" stroke-width="7.8"/>
<path d="M1396.7 1026.5L1501.3 1026.5" stroke="#0a579a" stroke-width="8.2"/>
<path d="M510.0 121.0C511.5 121.0 515.8 121.0 518.7 121.0C521.7 121.0 524.6 121.0 527.5 121.0C530.4 121.0 533.3 121.0 536.2 121.0C539.1 121.0 542.0 121.0 544.9 121.0C547.8 121.0 550.7 121.0 553.6 121.0C556.5 121.0 559.5 121.0 562.4 121.0C565.3 121.0 568.2 121.0 571.1 121.0C574.0 121.0 576.9 121.1 579.8 121.1C582.7 121.1 585.6 121.1 588.5 121.1C591.4 121.1 594.3 121.1 597.2 121.1C600.2 121.1 603.1 121.1 606.0 121.1C608.9 121.1 611.8 121.1 614.7 121.1C617.6 121.1 620.5 121.1 623.4 121.1C626.3 121.1 629.2 121.2 632.1 121.2C635.0 121.2 638.0 121.2 640.9 121.2C643.8 121.2 646.7 121.2 649.6 121.2C652.5 121.2 655.4 121.2 658.3 121.3C661.2 121.3 664.1 121.3 667.0 121.3C669.9 121.3 672.8 121.3 675.7 121.3C678.7 121.3 681.6 121.3 684.5 121.4C687.4 121.4 690.3 121.4 693.2 121.4C696.1 121.4 699.0 121.4 701.9 121.4C704.8 121.4 707.7 121.4 710.6 121.4C713.5 121.4 716.5 121.4 719.4 121.4C722.3 121.4 725.2 121.4 728.1 121.4C731.0 121.4 733.9 121.4 736.8 121.4C739.7 121.4 742.6 121.4 745.5 121.4C748.4 121.4 751.3 121.4 754.2 121.4C757.2 121.4 760.1 121.4 763.0 121.4C765.9 121.4 768.8 121.4 771.7 121.5C774.6 121.5 777.5 121.5 780.4 121.6C783.3 121.8 786.2 122.0 789.1 122.4C791.9 122.8 794.7 123.6 797.6 123.9C800.4 124.3 803.3 124.2 806.2 124.3C809.1 124.4 812.1 124.4 815.0 124.5C817.9 124.6 820.8 124.7 823.7 124.9C826.6 125.1 829.5 125.3 832.4 125.6C835.3 125.9 838.2 126.2 841.1 126.6C843.9 126.9 846.8 127.3 849.7 127.7C852.6 128.1 855.5 128.4 858.4 128.8C861.3 129.2 864.2 129.5 867.1 130.0C869.9 130.4 872.8 130.8 875.7 131.2C878.6 131.7 881.5 132.3 884.3 132.9C887.2 133.5 890.0 134.1 892.9 134.8C895.7 135.5 898.5 136.3 901.4 137.0C904.2 137.8 907.0 138.5 909.9 139.4C912.7 140.2 915.5 141.1 918.3 142.0C921.1 142.9 923.8 143.9 926.6 144.9C929.4 145.8 932.2 146.6 935.0 147.6C937.8 148.5 940.6 149.5 943.3 150.6C946.1 151.6 948.8 152.9 951.5 154.1C954.2 155.3 956.9 156.6 959.6 157.9C962.3 159.1 965.0 160.4 967.6 161.6C970.3 162.9 973.0 164.2 975.7 165.6C978.3 167.0 980.9 168.4 983.5 169.9C986.1 171.4 988.7 173.0 991.2 174.6C993.8 176.2 996.3 177.8 998.8 179.5C1001.3 181.2 1003.8 182.9 1006.3 184.7C1008.7 186.5 1011.1 188.4 1013.4 190.4C1015.7 192.4 1017.8 194.7 1020.0 197.0C1022.1 199.2 1024.2 201.6 1026.3 203.8C1028.5 206.0 1030.8 208.1 1033.0 210.3C1035.1 212.5 1037.3 214.8 1039.2 217.3C1041.1 219.8 1042.8 222.5 1044.5 225.2C1046.2 227.9 1047.8 230.7 1049.3 233.5C1050.9 236.3 1052.4 239.2 1053.9 242.0C1055.4 244.9 1056.9 247.7 1058.4 250.6C1059.8 253.5 1061.3 256.4 1062.7 259.3C1064.1 262.2 1065.5 265.2 1066.8 268.1C1068.1 271.1 1069.3 274.1 1070.5 277.2C1071.6 280.3 1072.6 283.4 1073.5 286.6C1074.5 289.7 1075.3 292.9 1076.1 296.1C1076.9 299.3 1077.6 302.6 1078.4 305.8C1079.1 309.0 1079.8 312.2 1080.5 315.5C1081.1 318.7 1081.7 322.0 1082.2 325.3C1082.8 328.6 1083.2 331.9 1083.6 335.2C1084.0 338.5 1084.2 341.8 1084.5 345.1C1084.8 348.4 1085.1 351.7 1085.4 355.1C1085.8 358.4 1086.2 361.7 1086.6 365.0C1087.1 368.3 1087.6 371.5 1088.2 374.8C1088.7 378.1 1089.4 381.3 1090.0 384.6C1090.5 387.9 1091.1 391.1 1091.7 394.4C1092.3 397.7 1092.8 401.0 1093.3 404.2C1093.8 407.5 1094.2 410.8 1094.7 414.1C1095.2 417.4 1095.7 420.7 1096.1 424.0C1096.6 427.3 1097.1 430.6 1097.4 433.9C1097.8 437.2 1098.0 440.5 1098.3 443.8C1098.5 447.1 1098.6 450.5 1098.8 453.8C1099.0 457.1 1099.2 460.5 1099.5 463.8C1099.8 467.1 1100.2 470.4 1100.6 473.7C1101.0 477.0 1101.5 480.3 1101.8 483.6C1102.2 486.9 1102.4 490.2 1102.6 493.6C1102.8 496.9 1102.9 500.2 1102.9 503.5C1103.0 506.9 1103.0 510.2 1102.9 513.6C1102.8 516.9 1102.7 520.2 1102.5 523.5C1102.4 526.9 1102.2 530.2 1102.0 533.5C1101.9 536.9 1101.8 540.2 1101.7 543.5C1101.5 546.9 1101.5 550.2 1101.4 553.5C1101.3 556.9 1101.2 560.2 1101.1 563.5C1101.0 566.9 1100.9 570.2 1100.9 573.5C1100.9 576.9 1100.8 580.2 1101.0 583.5C1101.1 586.9 1101.3 590.2 1101.6 593.5C1102.0 596.8 1102.7 600.0 1103.3 603.3C1103.8 606.6 1104.3 609.8 1104.8 613.1C1105.3 616.4 1105.8 619.7 1106.3 623.0C1106.8 626.3 1107.3 629.6 1107.8 632.9C1108.2 636.1 1108.7 639.4 1109.1 642.7C1109.4 646.1 1109.7 649.4 1109.9 652.7C1110.0 656.0 1109.9 659.4 1110.0 662.7C1110.1 666.0 1110.2 669.3 1110.5 672.7C1110.8 676.0 1111.3 679.3 1111.7 682.6C1112.2 685.8 1112.7 689.1 1113.3 692.4C1113.8 695.7 1114.4 698.9 1114.9 702.2C1115.5 705.5 1116.0 708.8 1116.6 712.0C1117.1 715.3 1117.7 718.6 1118.2 721.9C1118.8 725.1 1119.4 728.4 1119.9 731.7C1120.5 734.9 1121.1 738.2 1121.6 741.5C1122.1 744.8 1122.6 748.1 1123.1 751.4C1123.5 754.7 1123.8 758.0 1124.1 761.3C1124.4 764.6 1124.7 767.9 1124.9 771.2C1125.1 774.6 1125.3 777.9 1125.6 781.2C1125.8 784.5 1126.1 787.9 1126.3 791.2C1126.5 794.5 1126.7 797.8 1127.0 801.2C1127.3 804.5 1127.5 807.8 1127.8 811.1C1128.1 814.4 1128.5 817.7 1128.9 821.1C1129.3 824.4 1129.7 827.7 1130.2 830.9C1130.7 834.2 1131.1 837.5 1131.7 840.8C1132.2 844.1 1132.8 847.3 1133.5 850.6C1134.1 853.8 1134.9 857.1 1135.6 860.3C1136.4 863.5 1137.2 866.7 1138.0 869.9C1138.8 873.1 1139.6 876.3 1140.5 879.5C1141.4 882.7 1142.3 885.8 1143.4 888.9C1144.4 892.0 1145.6 895.1 1146.8 898.1C1148.0 901.2 1149.2 904.2 1150.4 907.2C1151.6 910.3 1152.9 913.3 1154.0 916.3C1155.2 919.4 1156.4 922.4 1157.5 925.5C1158.7 928.6 1159.7 931.7 1160.9 934.7C1162.0 937.8 1163.2 940.9 1164.3 943.9C1165.4 947.0 1166.3 950.2 1167.6 953.1C1169.0 956.1 1170.3 959.0 1172.1 961.4C1174.0 963.9 1176.5 965.7 1178.7 968.0C1180.8 970.2 1182.7 972.8 1184.9 974.8C1187.2 976.7 1189.6 978.3 1192.3 979.6C1194.9 980.9 1197.8 981.6 1200.6 982.5C1203.4 983.5 1206.2 984.4 1208.9 985.4C1211.7 986.3 1214.5 987.4 1217.3 988.3C1220.1 989.2 1222.9 990.0 1225.7 990.7C1228.6 991.4 1231.5 991.9 1234.3 992.4C1237.2 992.9 1240.1 993.4 1242.9 993.9C1245.8 994.5 1248.7 995.1 1251.5 995.7C1254.4 996.4 1257.2 997.1 1260.1 997.7C1262.9 998.4 1265.8 999.1 1268.6 999.7C1271.5 1000.3 1274.3 1000.9 1277.2 1001.4C1280.1 1001.9 1283.0 1002.3 1285.9 1002.8C1288.7 1003.2 1291.6 1003.5 1294.5 1004.1C1297.4 1004.7 1300.2 1005.5 1303.0 1006.2C1305.8 1006.9 1308.6 1007.8 1311.5 1008.3C1314.3 1008.7 1317.3 1008.2 1320.1 1008.7C1322.9 1009.3 1325.5 1010.6 1328.3 1011.5C1331.0 1012.4 1333.7 1013.7 1336.6 1014.2C1339.4 1014.8 1342.3 1014.8 1345.2 1014.9C1348.1 1015.0 1351.0 1014.9 1353.9 1014.9C1356.9 1014.8 1359.8 1014.8 1362.7 1014.8C1365.6 1014.7 1368.5 1014.7 1371.4 1014.7C1374.3 1014.7 1377.2 1014.7 1380.1 1014.7C1383.0 1014.7 1385.9 1014.7 1388.8 1014.7C1391.7 1014.7 1396.1 1014.7 1397.6 1014.7" stroke="#f4065f" stroke-width="8"/>
<path d="M201.4 119.3L517.0 119.3" stroke="#f20a64" stroke-width="9" />
<path d="M1394.9 1017.4L1501.3 1017.4" stroke="#f20a64" stroke-width="8.6"/>
</g>
<g fill="none" stroke="#000" stroke-width="8.6" stroke-linejoin="round" stroke-linecap="round">
<path d="M200.1 40.3 H1502.6 M200.1 1119.6 H1502.6"/>
<path d="M200.1 40.3 V1119.6 M1502.6 40.3 V1119.6" stroke-width="9.3"/>
<path d="M186.1 123.5 H200.1" stroke-width="7.2"/>
<path d="M186.1 309.6 H200.1" stroke-width="7.2"/>
<path d="M186.1 489.3 H200.1" stroke-width="7.2"/>
<path d="M186.1 668.9 H200.1" stroke-width="7.2"/>
<path d="M186.1 846.0 H200.1" stroke-width="7.2"/>
<path d="M186.1 1025.8 H200.1" stroke-width="7.2"/>
<path d="M288.7 1119.6 V1132.3" stroke-width="7.6"/>
<path d="M464.5 1119.6 V1132.3" stroke-width="7.6"/>
<path d="M637.3 1119.6 V1132.3" stroke-width="7.6"/>
<path d="M810.9 1119.6 V1132.3" stroke-width="7.6"/>
<path d="M985.9 1119.6 V1132.3" stroke-width="7.6"/>
<path d="M1156.5 1119.6 V1132.3" stroke-width="7.6"/>
<path d="M1332.0 1119.6 V1132.3" stroke-width="7.6"/>
<path d="M1502.4 1119.6 V1132.3" stroke-width="7.6"/>
</g>
<g font-size="46.4" text-anchor="end">
<text x="177.4" y="140.0">100</text>
<text x="177.7" y="323.8">80</text>
<text x="175.7" y="501.5">60</text>
<text x="177.2" y="681.0">40</text>
<text x="180.5" y="860.0">20</text>
<text x="180.5" y="1039.6">0</text>
</g>
<g font-size="46.4" text-anchor="middle">
<text x="288.3" y="1182.0">100</text>
<text x="467.1" y="1181.2">200</text>
<text x="636.5" y="1180.0">300</text>
<text x="810.1" y="1180.0">400</text>
<text x="987.4" y="1180.0">500</text>
<text x="1154.5" y="1179.6">600</text>
<text x="1331.8" y="1179.0">700</text>
<text x="1502.4" y="1179.0">800</text>
</g>
<text x="534.1" y="1263.7" font-size="68.8">Temperature</text>
<text x="939.1" y="1262.5" font-size="58" style="stroke-width:.2px">(</text>
<text x="958.6" y="1237.5" font-size="26" style="font-family:'Liberation Sans',sans-serif;font-weight:normal;fill:#707070;stroke:none">°</text>
<text transform="translate(971.8,1265.2) scale(0.7498,1)" font-size="51.5" style="font-family:'Liberation Sans',sans-serif;font-weight:normal;stroke:#000;stroke-width:1.1px">C</text>
<text x="1000.5" y="1262.5" font-size="58" style="stroke-width:.2px">)</text>
<text transform="translate(84.4,717.5) rotate(-90)" font-size="71.3">Weight (%)</text>
<rect x="259.3" y="808.0" width="375.7" height="228.8" fill="#fff" stroke="#000" stroke-width="9" stroke-linejoin="round"/>
<g font-size="41.8">
<path d="M291.6 863.7 H411.1" stroke="#ff0a55" stroke-width="10.4" stroke-linecap="round" fill="none"/>
<text x="435.0" y="871.0" style="fill:#ff1462;stroke:#ff1462;stroke-width:1.3px">PBP</text>
<path d="M291.6 904.2 H411.1" stroke="#173f3b" stroke-width="9.2" stroke-linecap="round" fill="none"/>
<text x="431.6" y="914.6" style="fill:#1d5752;stroke:#1d5752;stroke-width:1.3px">SI-PBP 1</text>
<path d="M291.6 944.6 H411.1" stroke="#0c0cb0" stroke-width="9.8" stroke-linecap="round" fill="none"/>
<text x="433.9" y="958.4" style="fill:#1818cc;stroke:#1818cc;stroke-width:1.3px">SI-PBP 2</text>
<path d="M291.6 983.2 H411.1" stroke="#e80000" stroke-width="10.2" stroke-linecap="round" fill="none"/>
<text x="431.6" y="997.0" style="fill:#f00000;stroke:#f00000;stroke-width:1.3px">SI-PBP 3</text>
</g>
</g>
</svg></body></html>
